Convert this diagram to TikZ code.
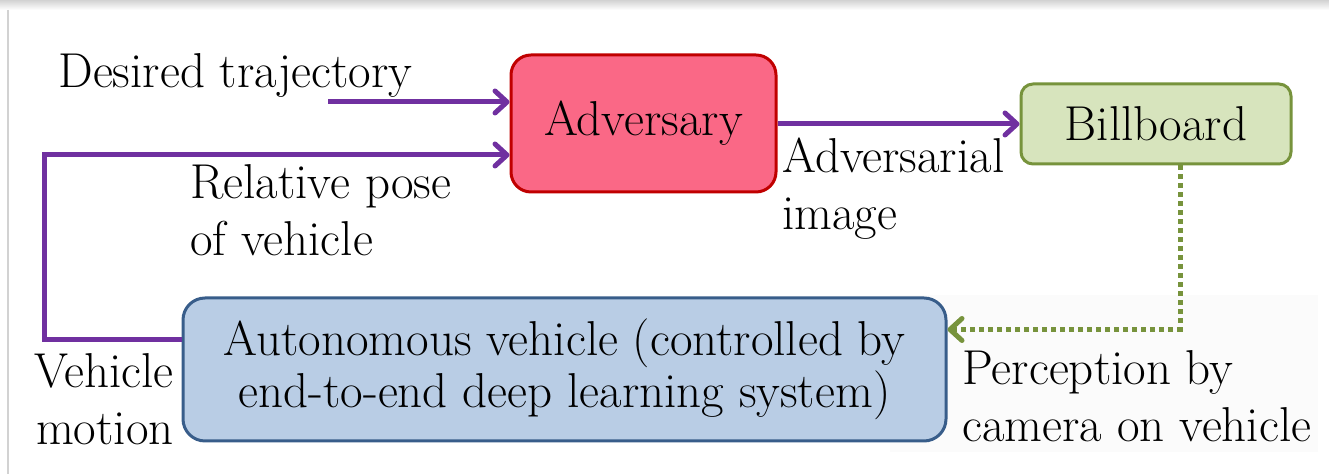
\documentclass[tikz,border=0pt]{standalone}
\usepackage{xcolor}
\usepackage{tikz}
\usetikzlibrary{arrows.meta,positioning,calc}

\definecolor{advfill}{RGB}{250,104,134}
\definecolor{advline}{RGB}{192,0,0}
\definecolor{billfill}{RGB}{215,228,189}
\definecolor{billline}{RGB}{119,147,60}
\definecolor{carfill}{RGB}{185,205,229}
\definecolor{carline}{RGB}{56,93,138}
\definecolor{flowpurple}{RGB}{112,48,160}

\begin{document}
\begin{tikzpicture}[
  x=0.5pt, y=-0.5pt,
  font=\fontsize{24.5}{28.5}\selectfont,
  block/.style={draw, align=center, inner sep=0pt, line width=1.5pt},
  attacker/.style={block, fill=advfill, draw=advline, rounded corners=10pt,
                   minimum width=132.5pt, minimum height=68.5pt},
  board/.style={block, fill=billfill, draw=billline, rounded corners=6pt,
                minimum width=135pt, minimum height=40pt},
  vehicle/.style={block, fill=carfill, draw=carline, rounded corners=11pt,
                  minimum width=381.5pt, minimum height=71.5pt},
  tag/.style={inner sep=0pt, align=left},
  flow/.style={-{Straight Barb[length=6pt,width=11pt,round]}, line width=2.5pt, draw=flowpurple},
  sensed/.style={flow, draw=billline, dash pattern=on 2.5pt off 2pt}
]
\useasboundingbox (0,0) rectangle (1329,474);
% slide frame and faint backdrop
\shade[top color=gray!35, bottom color=white] (0,0) rectangle (1329,10);
\draw[gray!35, line width=1pt] (8,10) -- (8,474);
\fill[gray!3] (890,295) rectangle (1318,452);

\node[attacker] (adv) at (643.5,123.5) {\raisebox{-2pt}{Adversary}};
\node[board] (bill) at (1156,124) {Billboard};
\node[vehicle] (car) at (564.5,369.5) {\raisebox{-2.5pt}{Autonomous vehicle (controlled by}\\end-to-end deep learning system)};

\node[tag, anchor=west] (traj) at (58,75) {Desired trajectory};
\node[tag, anchor=west] (pose) at (190,210) {Relative pose\\of vehicle};
\node[tag, anchor=west] (img) at (782,189) {Adversarial\\image};
\node[tag, anchor=east, align=right] (motion) at (174,399) {Vehicle\\motion};
\node[tag, anchor=west] (percep) at (962,396) {Perception by\\camera on vehicle};

\coordinate (trajstart) at (328,102);
\coordinate (loop) at (44,155);

\draw[flow] (trajstart) -- (adv.west |- trajstart);
\draw[flow] ([yshift=14.75pt]car.west) -| (loop) -- (adv.west |- loop);
\draw[flow] (adv.east |- bill.west) -- (bill.west);
\draw[sensed] ([xshift=12pt]bill.south) |- ([yshift=20pt]car.east);
\end{tikzpicture}
\end{document}
